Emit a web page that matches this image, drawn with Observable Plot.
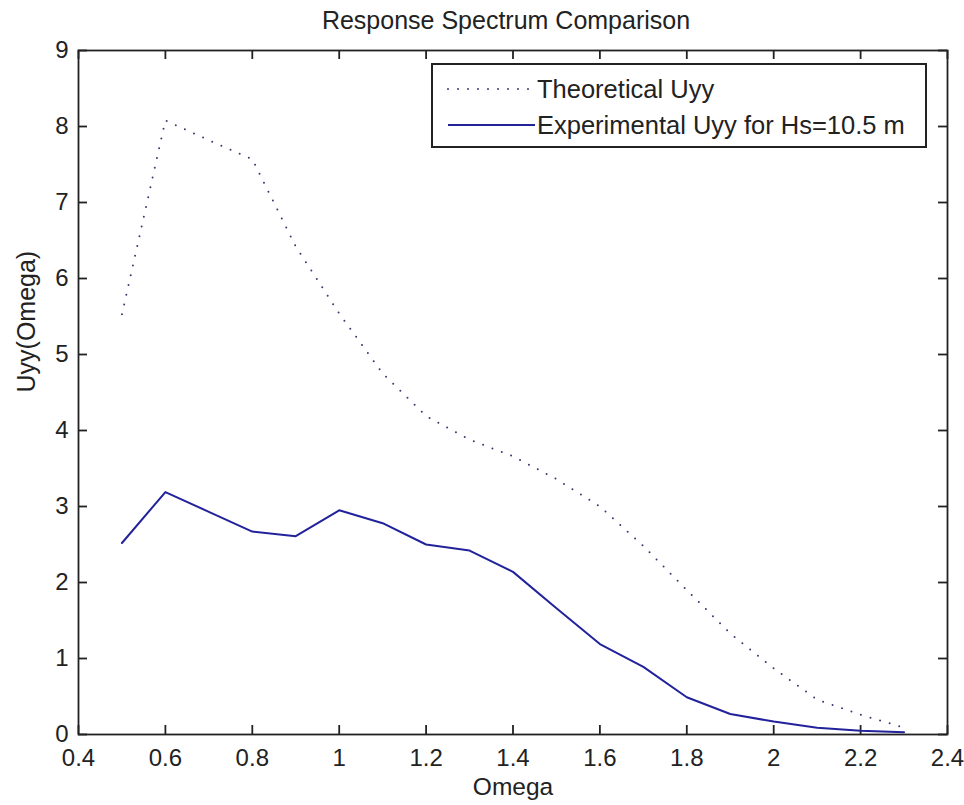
<!DOCTYPE html>
<html>
<head>
<meta charset="utf-8">
<script src="https://cdn.jsdelivr.net/npm/d3@7"></script>
<script src="https://cdn.jsdelivr.net/npm/@observablehq/plot@0.6"></script>
<style>
  html, body { margin: 0; padding: 0; background: #fff; }
  #wrap { position: relative; width: 964px; height: 805px; font-family: "Liberation Sans", Arial, sans-serif; color: #222; }
  #legend { position: absolute; left: 431px; top: 63px; width: 492px; height: 81px; border: 2px solid #222; background: #fff; }
  .row { position: absolute; left: 0; height: 30px; display: flex; align-items: center; font-size: 25.5px; white-space: nowrap; }
  .row svg { margin-left: 14px; margin-right: 0px; }
</style>
</head>
<body>
<div id="wrap"></div>
<script>
const omega = [0.5, 0.6, 0.7, 0.8, 0.9, 1.0, 1.1, 1.2, 1.3, 1.4, 1.5, 1.6, 1.7, 1.8, 1.9, 2.0, 2.1, 2.2, 2.3];
const theoretical = [5.53, 8.08, 7.82, 7.57, 6.42, 5.54, 4.75, 4.19, 3.88, 3.66, 3.36, 3.00, 2.48, 1.90, 1.33, 0.87, 0.46, 0.26, 0.09];
const experimental = [2.52, 3.19, 2.93, 2.67, 2.61, 2.95, 2.78, 2.50, 2.42, 2.14, 1.66, 1.19, 0.89, 0.49, 0.27, 0.17, 0.09, 0.05, 0.03];
const xTicks = [0.4, 0.6, 0.8, 1.0, 1.2, 1.4, 1.6, 1.8, 2.0, 2.2, 2.4];
const xTickLabels = ["0.4", "0.6", "0.8", "1", "1.2", "1.4", "1.6", "1.8", "2", "2.2", "2.4"];
const yTicks = [0, 1, 2, 3, 4, 5, 6, 7, 8, 9];
const yTickLabels = ["0", "1", "2", "3", "4", "5", "6", "7", "8", "9"];
const seriesNames = ["Theoretical Uyy", "Experimental Uyy for Hs=10.5 m"];
const titleText = "Response Spectrum Comparison";
const xLabel = "Omega";
const yLabel = "Uyy(Omega)";

const theoData = omega.map((x, i) => ({x, y: theoretical[i]}));
const expData = omega.map((x, i) => ({x, y: experimental[i]}));

const lineColor = "#22229b";
const dotColor = "#3a3a72";
const axisColor = "#222";

const W = 964, H = 805;
const mL = 78, mR = 17, mT = 50, mB = 71;
const fw = W - mL - mR, fh = H - mT - mB;
const tick = 9;

const chart = Plot.plot({
  width: W,
  height: H,
  marginLeft: mL,
  marginRight: mR,
  marginTop: mT,
  marginBottom: mB,
  style: {fontFamily: '"Liberation Sans", Arial, sans-serif', fontSize: "24px", color: axisColor, background: "#fff"},
  x: {domain: [0.4, 2.4]},
  y: {domain: [0, 9]},
  marks: [
    Plot.axisX({ticks: xTicks, tickSize: 0, tickPadding: 14, tickFormat: d => xTickLabels[xTicks.indexOf(d)], fontSize: 24, label: null}),
    Plot.axisY({ticks: yTicks, tickSize: 0, tickPadding: 10, tickFormat: d => yTickLabels[yTicks.indexOf(d)], fontSize: 24, label: null}),
    // inward ticks on all four sides
    Plot.tickX(xTicks, {x: d => d, stroke: axisColor, strokeWidth: 1.8, insetTop: fh - tick}),
    Plot.tickX(xTicks, {x: d => d, stroke: axisColor, strokeWidth: 1.8, insetBottom: fh - tick}),
    Plot.tickY(yTicks, {y: d => d, stroke: axisColor, strokeWidth: 1.8, insetRight: fw - tick}),
    Plot.tickY(yTicks, {y: d => d, stroke: axisColor, strokeWidth: 1.8, insetLeft: fw - tick}),
    Plot.line(theoData, {x: "x", y: "y", stroke: dotColor, strokeWidth: 2, strokeDasharray: "0 10", strokeLinecap: "round"}),
    Plot.line(expData, {x: "x", y: "y", stroke: lineColor, strokeWidth: 2}),
    Plot.frame({stroke: axisColor, strokeWidth: 1.8}),
    Plot.text([titleText], {frameAnchor: "top", lineAnchor: "middle", dx: -7, dy: -30, fontSize: 25, fill: axisColor}),
    Plot.text([xLabel], {frameAnchor: "bottom", lineAnchor: "middle", dy: 53, fontSize: 24.5, fill: axisColor}),
    Plot.text([yLabel], {frameAnchor: "left", lineAnchor: "middle", dx: -52, rotate: -90, fontSize: 25, fill: axisColor})
  ]
});

const wrap = document.getElementById("wrap");
wrap.appendChild(chart);

// legend overlay inside the plot frame
const legend = document.createElement("div");
legend.id = "legend";
const rows = [
  {name: seriesNames[0], stroke: dotColor, dash: "0 10", cap: "round", top: 9},
  {name: seriesNames[1], stroke: lineColor, dash: null, cap: "butt", top: 45}
];
rows.forEach(r => {
  const row = document.createElement("div");
  row.className = "row";
  row.style.top = r.top + "px";
  const svg = d3.create("svg").attr("width", 90).attr("height", 30);
  svg.append("line").attr("x1", 1).attr("x2", 88).attr("y1", 15).attr("y2", 15)
    .attr("stroke", r.stroke).attr("stroke-width", 2)
    .attr("stroke-linecap", r.cap)
    .attr("stroke-dasharray", r.dash);
  row.appendChild(svg.node());
  const span = document.createElement("span");
  span.textContent = r.name;
  row.appendChild(span);
  legend.appendChild(row);
});
wrap.appendChild(legend);
</script>
</body>
</html>
